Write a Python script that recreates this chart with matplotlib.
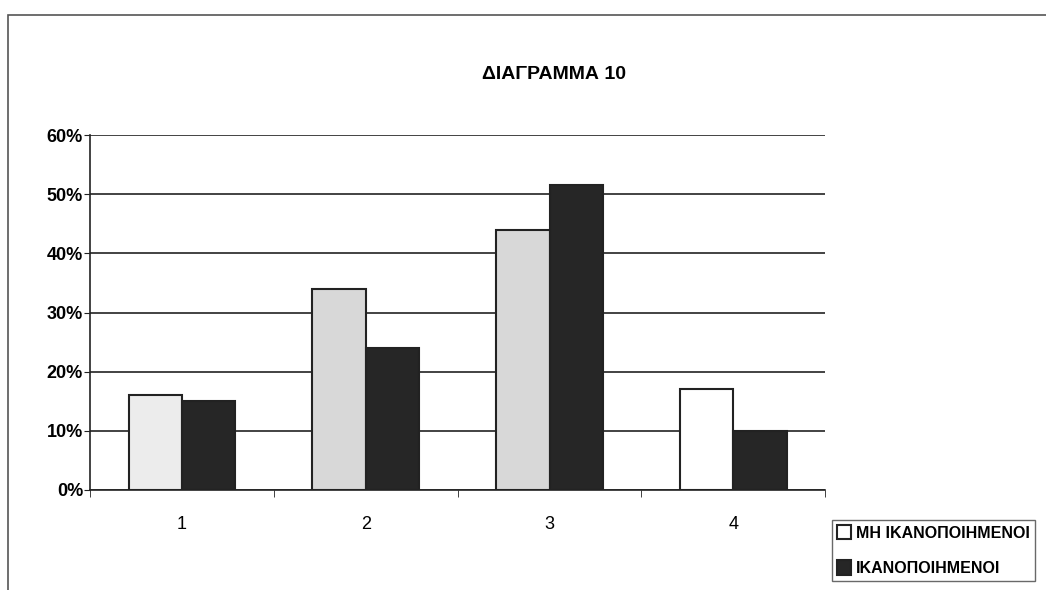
import numpy as np
import matplotlib.pyplot as plt
from matplotlib.patches import Rectangle
from matplotlib.ticker import FuncFormatter

plt.rcParams['font.family'] = ['Liberation Sans', 'DejaVu Sans']

categories = ['1', '2', '3', '4']
not_satisfied = [16, 34, 44, 17]
satisfied = [15, 24, 51.5, 10]
labels = ['ΜΗ ΙΚΑΝΟΠΟΙΗΜΕΝΟΙ', 'ΙΚΑΝΟΠΟΙΗΜΕΝΟΙ']

fig = plt.figure(figsize=(10.46, 5.9), dpi=100)
ax = fig.add_axes([0.086, 0.1695, 0.703, 0.6015])

x = np.arange(len(categories))
w = 0.29
light = ['#ececec', '#d8d8d8', '#d8d8d8', '#ffffff']
b1 = ax.bar(x - w / 2, not_satisfied, w, color=light, edgecolor='#222222',
            linewidth=1.5, zorder=3, label=labels[0])
b2 = ax.bar(x + w / 2, satisfied, w, color='#262626', edgecolor='#222222',
            linewidth=1.5, zorder=3, label=labels[1])

ax.set_xlim(-0.5, 3.5)
ax.set_ylim(0, 60)
ax.set_yticks(np.arange(0, 61, 10))
ax.yaxis.set_major_formatter(FuncFormatter(lambda v, p: f'{v:.0f}%'))
ax.set_xticks(x)
ax.set_xticklabels(categories)
ax.set_xticks(np.arange(-0.5, 3.6, 1), minor=True)
ax.tick_params(axis='x', which='major', length=0, pad=19, labelsize=13)
ax.tick_params(axis='x', which='minor', length=5, direction='out', color='#222222')
ax.tick_params(axis='y', length=4, direction='out', labelsize=13, pad=1,
               color='#222222')
for t in ax.get_yticklabels():
    t.set_fontweight('bold')
ax.grid(axis='y', color='#222222', linewidth=1.2, zorder=0)
for s in ['top', 'right']:
    ax.spines[s].set_visible(False)
for s in ['left', 'bottom']:
    ax.spines[s].set_color('#222222')
    ax.spines[s].set_linewidth(1.2)

fig.text(0.53, 0.873, 'ΔΙΑΓΡΑΜΜΑ 10', ha='center', va='center',
         fontsize=14, fontweight='bold')

# outer chart frame
fig.patches.append(Rectangle((0.008, -0.01), 1.1, 0.985, transform=fig.transFigure,
                             fill=False, edgecolor='#555555', linewidth=1.2))

leg = fig.legend(handles=[b1[3], b2[0]], labels=labels, loc='upper left',
                 bbox_to_anchor=(0.788, 0.132), frameon=True, fancybox=False,
                 edgecolor='#444444', handlelength=0.9,
                 handleheight=1.0, handletextpad=0.3, labelspacing=1.25,
                 borderpad=0.3, prop={'weight': 'bold', 'size': 11.5})

fig.savefig('out.png', dpi=100, facecolor='white')
